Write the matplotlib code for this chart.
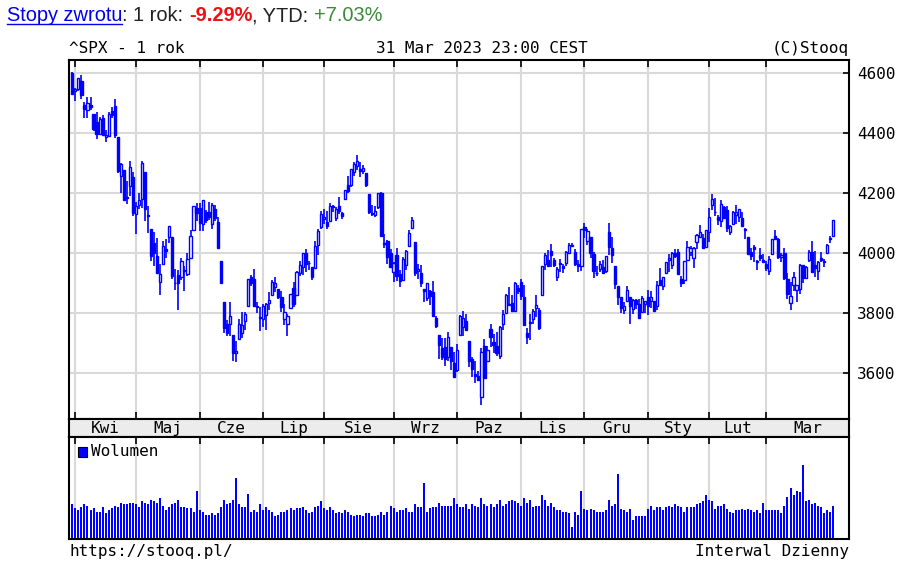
import matplotlib
matplotlib.use("Agg")
import matplotlib.pyplot as plt
from matplotlib.patches import Rectangle
from matplotlib.lines import Line2D
import pandas as pd
import numpy as np

# ---------------- data ----------------
holidays = ["2022-04-15", "2022-05-30", "2022-06-20", "2022-07-04", "2022-09-05",
            "2022-11-24", "2022-12-26", "2023-01-02", "2023-01-16", "2023-02-20"]
month_names = ["Kwi", "Maj", "Cze", "Lip", "Sie", "Wrz", "Paz", "Lis", "Gru", "Sty", "Lut", "Mar"]

opens = [4599,
 4540,4548,4572,4494,4475,4494,4463,4438,4398,4449,4386,4391,4472,4489,4386,4255,4278,4187,4223,4254,
 4131,4160,4181,4270,4128,4081,4035,3990,3904,3964,4013,4052,4052,3899,3928,3919,3943,3930,3985,4077,4151,
 4150,4095,4138,4135,4096,4147,4102,3974,3838,3764,3764,3728,3666,3715,3734,3775,3822,3921,3913,3825,3786,
 3781,3793,3832,3859,3888,3881,3852,3780,3764,3818,3884,3861,3935,3955,4000,3966,3953,3951,4026,4087,
 4112,4104,4108,4155,4116,4156,4133,4181,4227,4225,4269,4290,4280,4273,4266,4195,4133,4127,4153,4199,4035,4041,4001,
 3937,3995,3931,3909,3960,4023,4084,4037,3941,3932,3880,3850,3875,3871,3782,3727,3683,3686,3652,3687,3633,
 3610,3726,3753,3772,3707,3648,3596,3591,3520,3690,3639,3746,3703,3689,3657,3762,3799,3826,3835,3808,3882,
 3902,3853,3733,3767,3781,3817,3811,3860,3964,3978,4006,3977,3919,3966,3956,3966,4000,4023,4005,3964,3957,
 4087,4040,4052,3997,3933,3948,3954,3939,4069,4016,3958,3891,3854,3810,3839,3853,3815,3843,3830,3805,3829,
 3853,3840,3840,3823,3911,3889,3932,3978,3961,3999,4002,3912,3909,3978,4002,3983,4036,4054,4049,4021,
 4070,4159,4137,4120,4105,4153,4144,4069,4097,4127,4120,4115,4077,4052,4002,4019,3973,3992,3977,
 3963,3939,3998,4055,4048,3988,3999,3913,3835,3894,3877,3879,3959,3917,3976,4002,3959,3939,3983,3974,4000,4047,4056]
highs = [4603,
 4549,4584,4593,4504,4521,4520,4464,4471,4453,4460,4410,4471,4488,4513,4386,4299,4278,4241,4308,4270,
 4170,4200,4308,4270,4158,4081,4069,4049,3965,4039,4046,4091,4052,3946,3943,3982,3956,3999,4075,4158,4168,
 4167,4178,4143,4169,4165,4160,4119,3974,3838,3778,3838,3728,3708,3780,3802,3803,3914,3928,3946,3837,3819,
 3830,3832,3871,3911,3919,3881,3873,3829,3796,3864,3902,3940,3974,3999,4012,3975,3953,4040,4079,4140,
 4145,4140,4168,4161,4152,4187,4137,4211,4258,4280,4302,4325,4302,4293,4266,4195,4160,4157,4201,4203,4063,4045,4015,
 3970,4018,3943,3988,4011,4077,4119,4037,3962,3959,3881,3900,3876,3907,3790,3727,3716,3718,3737,3687,3671,
 3698,3792,3807,3798,3707,3652,3641,3608,3685,3712,3690,3763,3729,3736,3758,3811,3863,3886,3860,3905,3894,
 3912,3894,3751,3796,3814,3859,3818,3958,4001,4009,4029,3983,3954,3980,3962,4006,4034,4034,4012,3977,4080,
 4101,4080,4052,4002,3958,3974,3977,3991,4101,4054,3958,3891,3855,3838,3889,3853,3846,3847,3848,3858,3840,
 3878,3873,3840,3906,3951,3920,3970,3998,4004,4015,4014,3923,3973,4039,4024,4020,4062,4094,4064,4077,
 4149,4195,4182,4125,4177,4157,4156,4094,4139,4160,4148,4137,4082,4052,4017,4028,3978,4018,3998,
 3972,3991,4048,4078,4050,4000,4018,3934,3905,3937,3894,3964,3959,3957,4009,4039,4008,3973,4004,3979,4031,4058,4111]
lows = [4530,
 4508,4539,4514,4450,4450,4475,4408,4381,4394,4391,4370,4391,4449,4384,4268,4201,4175,4163,4189,4124,
 4063,4147,4149,4106,4068,3975,3958,3929,3859,3964,3984,4034,3912,3877,3810,3909,3875,3925,3985,4077,4105,
 4074,4074,4099,4109,4080,4107,4017,3900,3734,3724,3722,3640,3637,3715,3718,3744,3822,3890,3820,3799,3739,
 3752,3742,3809,3859,3869,3847,3802,3759,3722,3817,3819,3861,3922,3928,3938,3943,3911,3951,3993,4079,
 4096,4080,4108,4135,4107,4129,4112,4177,4201,4220,4257,4278,4253,4262,4219,4130,4124,4120,4148,4058,4017,3965,3955,
 3904,3906,3887,3906,3945,4023,4084,3922,3913,3888,3838,3839,3828,3789,3749,3647,3645,3623,3641,3610,3584,
 3605,3726,3723,3739,3621,3588,3568,3574,3492,3580,3639,3687,3667,3656,3647,3742,3799,3824,3804,3808,3863,
 3844,3759,3698,3709,3765,3786,3744,3860,3945,3956,3953,3954,3907,3936,3933,3957,3999,4021,3956,3938,3939,
 4051,4027,3984,3918,3923,3936,3933,3935,3993,3966,3879,3828,3800,3796,3839,3764,3797,3813,3781,3805,3800,
 3794,3816,3802,3810,3890,3877,3929,3938,3948,3985,3927,3886,3898,3972,3990,3949,4013,4049,4016,4020,
 4037,4142,4123,4093,4088,4112,4070,4061,4093,4095,4104,4089,4048,3995,3977,3969,3943,3974,3969,
 3939,3928,3995,4045,3980,3970,3909,3846,3809,3874,3838,3864,3901,3917,3971,3936,3919,3909,3970,3952,4000,4032,4056]
closes = [4530,
 4546,4583,4525,4481,4500,4488,4413,4397,4447,4393,4392,4462,4459,4394,4272,4296,4175,4184,4288,4132,
 4155,4175,4300,4147,4123,3991,4001,3935,3930,4024,4008,4089,3924,3901,3901,3974,3941,3979,4058,4158,4132,
 4101,4177,4109,4121,4161,4116,4018,3901,3750,3735,3790,3667,3675,3765,3760,3796,3912,3900,3822,3819,3785,
 3825,3831,3845,3903,3899,3854,3819,3802,3790,3863,3831,3937,3960,3999,3962,3967,3921,4024,4072,4130,
 4119,4091,4155,4152,4145,4140,4122,4210,4207,4280,4297,4305,4274,4284,4228,4138,4129,4141,4199,4058,4031,3986,3955,
 3967,3924,3908,3980,4006,4067,4110,3933,3946,3901,3873,3900,3856,3790,3758,3693,3655,3647,3719,3640,3586,
 3678,3791,3783,3745,3640,3612,3589,3577,3670,3583,3678,3720,3695,3666,3753,3797,3859,3831,3807,3901,3872,
 3856,3760,3720,3771,3807,3828,3749,3956,3993,3957,3992,3959,3947,3965,3950,4004,4027,4026,3964,3958,4080,
 4077,4072,3999,3941,3934,3964,3934,3991,4020,3995,3896,3852,3818,3822,3878,3822,3845,3829,3783,3849,3840,
 3824,3853,3808,3895,3892,3919,3970,3983,3999,3991,3929,3899,3973,4020,4017,4016,4060,4071,4018,4077,
 4119,4180,4136,4111,4164,4118,4082,4090,4137,4136,4148,4090,4079,3997,3991,4012,3970,3982,3970,
 3951,3981,4046,4048,3986,3992,3918,3862,3856,3919,3892,3960,3917,3952,4003,3937,3949,3971,3978,3971,4028,4051,4109]
volumes = [34.7,
 30.3,28.7,31.3,34.7,33.0,28.7,30.3,27.0,27.0,31.3,25.7,29.0,30.3,33.0,31.3,36.0,34.7,34.7,36.0,36.0,
 34.7,31.3,37.7,36.0,34.7,39.0,37.7,36.0,40.7,33.0,28.7,31.3,34.7,36.0,39.0,31.3,31.3,30.3,30.3,27.0,48.0,
 28.7,27.0,24.0,24.0,25.7,24.0,25.7,31.3,39.0,34.7,36.0,39.0,60.0,34.7,31.3,31.3,45.0,27.0,28.7,27.0,34.7,
 28.7,31.3,28.7,27.0,22.7,24.0,27.0,27.0,28.7,30.3,28.7,30.3,30.3,31.7,28.7,25.7,27.0,31.7,33.0,37.7,
 30.3,28.7,31.7,28.7,25.7,27.0,25.7,28.7,27.0,24.0,22.7,24.0,24.0,22.7,25.7,25.7,22.7,22.7,24.0,27.0,24.0,27.0,33.0,
 30.3,27.0,28.7,28.7,30.3,27.0,27.0,34.7,31.7,31.7,55.7,27.0,30.3,31.7,31.7,36.0,33.0,33.0,33.0,33.0,40.7,
 34.7,31.3,31.3,34.3,29.7,34.3,32.7,31.3,40.3,34.3,32.7,34.3,31.3,34.3,38.7,32.7,34.3,37.3,38.7,37.3,35.7,
 32.7,40.3,35.7,38.7,31.3,32.7,32.7,43.3,38.7,32.7,35.7,31.3,28.3,28.3,26.7,26.7,25.3,11.7,26.7,23.7,47.7,
 29.7,28.3,29.7,28.3,26.7,26.7,26.7,28.3,38.7,32.7,34.3,64.3,29.7,28.3,26.7,29.7,19.3,22.3,22.3,22.3,22.3,
 29.7,32.7,28.3,31.3,31.3,28.3,31.3,32.7,31.3,34.3,32.7,31.3,26.7,31.3,31.3,31.3,34.3,35.7,37.3,43.3,
 38.7,37.3,29.7,32.7,32.7,34.3,29.7,26.7,25.3,28.3,28.3,29.7,28.3,29.7,28.3,26.7,28.3,25.3,35.7,
 28.3,28.3,28.3,28.3,28.3,25.3,32.7,41.7,50.7,43.3,47.7,46.3,73.3,37.3,38.7,34.3,35.7,32.7,31.3,25.3,28.3,26.7,32.7]

# ---------------- layout helpers ----------------
W, H = 897, 562
fig = plt.figure(figsize=(W / 100, H / 100), dpi=100)
fig.patch.set_facecolor("white")

def fx(px):
    return px / W

def fy(py):
    return 1 - py / H

MONO = "DejaVu Sans Mono"
SANS = "Liberation Sans"
FS = 11.5
BLUE = "#0000ff"
GRID = "#d9d9d9"

# trading days
bd = pd.offsets.CustomBusinessDay(holidays=holidays)
dates = pd.date_range("2022-03-31", "2023-03-31", freq=bd)
n = len(closes)
x = np.arange(n)
months = pd.Series(dates.to_period("M"))
month_starts = [i for i in range(1, n) if months[i] != months[i - 1]]

L, R = 69, 849
xmin = -1.1
xmax = 256.3

# ---------------- price panel ----------------
ax = fig.add_axes([fx(L), fy(419), fx(R - L), (419 - 60) / H])
ax.set_xlim(xmin, xmax)
ax.set_ylim(3447, 4643)
ax.set_axisbelow(True)
for m in month_starts:
    ax.axvline(m, color=GRID, lw=1.5, zorder=0)
for lvl in [3600, 3800, 4000, 4200, 4400, 4600]:
    ax.axhline(lvl, color=GRID, lw=1.5, zorder=0)

o = np.array(opens); h = np.array(highs); l = np.array(lows); c = np.array(closes)
ax.vlines(x, l, h, color=BLUE, lw=1.2, zorder=2)
up = c >= o
body_w = 0.72
ax.bar(x[up], (c - o)[up], bottom=o[up], width=body_w, facecolor="white",
       edgecolor=BLUE, linewidth=1.0, zorder=3)
ax.bar(x[~up], (o - c)[~up], bottom=c[~up], width=body_w, facecolor=BLUE,
       edgecolor=BLUE, linewidth=1.0, zorder=3)

ax.set_xticks(month_starts)
ax.tick_params(axis="x", which="both", direction="in", length=5, width=1.2,
               top=True, bottom=True, labelbottom=False, labeltop=False, color="black")
ax.yaxis.tick_right()
ax.set_yticks([3600, 3800, 4000, 4200, 4400, 4600])
ax.set_yticklabels(["3600", "3800", "4000", "4200", "4400", "4600"], family=MONO, fontsize=FS)
ax.tick_params(axis="y", direction="in", length=4, width=1.2, pad=6, left=False, right=True)
for s in ax.spines.values():
    s.set_linewidth(1.5)
    s.set_color("black")

# ---------------- month band ----------------
band = fig.add_axes([fx(L), fy(437), fx(R - L), (437 - 419) / H])
band.set_xlim(xmin, xmax)
band.set_ylim(0, 1)
band.set_facecolor("#ececec")
band.set_xticks([]); band.set_yticks([])
for s in band.spines.values():
    s.set_linewidth(1.5)
bounds = month_starts + [xmax]
for i, name in enumerate(month_names):
    mid = (bounds[i] + bounds[i + 1]) / 2
    band.text(mid, 0.47, name, ha="center", va="center", family=MONO, fontsize=FS)

# ---------------- volume panel ----------------
vax = fig.add_axes([fx(L), fy(539), fx(R - L), (539 - 437) / H])
vax.set_xlim(xmin, xmax)
vax.set_ylim(0, 101)
for m in month_starts:
    vax.axvline(m, color=GRID, lw=1.5, zorder=0)
vax.bar(x, volumes, width=0.66, color=BLUE, linewidth=0, antialiased=False, zorder=2)
vax.set_xticks(month_starts)
vax.tick_params(axis="x", direction="in", length=5, width=1.2, top=True, bottom=False,
                labelbottom=False)
vax.set_yticks([])
for s in vax.spines.values():
    s.set_linewidth(1.5)

# legend
fig.patches.append(Rectangle((fx(77.5), fy(456.5)), fx(9.5), 9.5 / H, transform=fig.transFigure,
                             facecolor=BLUE, edgecolor="black", linewidth=0.8))
fig.text(fx(91), fy(451.5), "Wolumen", family=MONO, fontsize=FS, ha="left", va="center")

# ---------------- header / footer texts ----------------
fig.text(fx(L), fy(53), "^SPX - 1 rok", family=MONO, fontsize=FS, ha="left", va="baseline")
fig.text(fx(482), fy(53), "31 Mar 2023 23:00 CEST", family=MONO, fontsize=FS, ha="center", va="baseline")
fig.text(fx(R), fy(53), "(C)Stooq", family=MONO, fontsize=FS, ha="right", va="baseline")
fig.text(fx(L), fy(556), "https://stooq.pl/", family=MONO, fontsize=FS, ha="left", va="baseline")
fig.text(fx(R), fy(556), "Interwal Dzienny", family=MONO, fontsize=FS, ha="right", va="baseline")

# top return line (pieces placed one after another)
renderer = fig.canvas.get_renderer()
pieces = [("Stopy zwrotu", "#0000ee", "normal"),
          (": 1 rok: ", "#222222", "normal"),
          ("-9.29%", "#ee1111", "bold"),
          (", YTD: ", "#222222", "normal"),
          ("+7.03%", "#3a8a3a", "normal")]
cur = 7.0
TFS = 14.4
for k, (txt, col, wt) in enumerate(pieces):
    t = fig.text(fx(cur), fy(21), txt, family=SANS, fontsize=TFS, color=col,
                 fontweight=wt, ha="left", va="baseline")
    bb = t.get_window_extent(renderer=renderer)
    if k == 0:
        fig.lines.append(Line2D([fx(cur), fx(cur + bb.width)], [fy(24), fy(24)],
                                transform=fig.transFigure, color=col, lw=1.0))
    cur += bb.width

fig.savefig("out.png", dpi=100, facecolor="white")
